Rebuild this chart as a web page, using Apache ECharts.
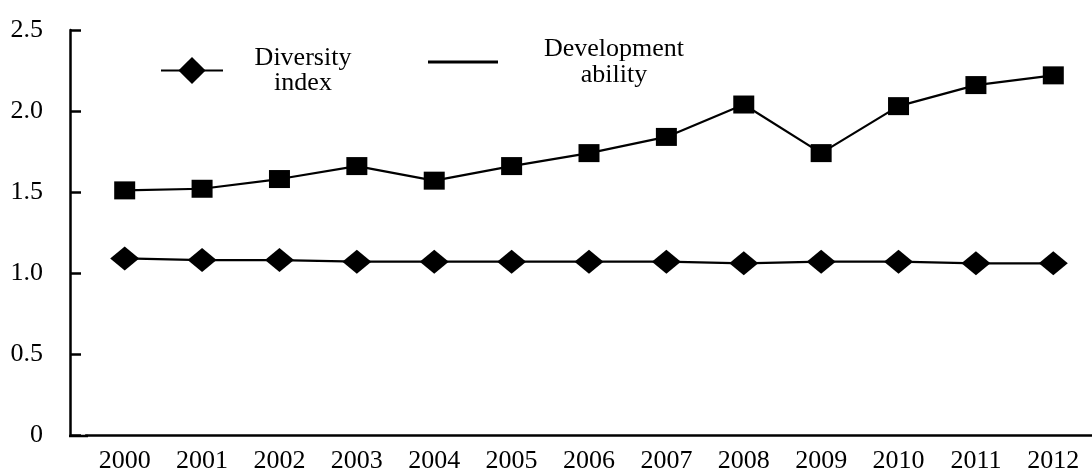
<!DOCTYPE html>
<html>
<head>
<meta charset="utf-8">
<script src="https://cdn.jsdelivr.net/npm/echarts@6/dist/echarts.min.js"></script>
<style>html,body{margin:0;padding:0;background:#fff}#c{width:1092px;height:474px}</style>
</head>
<body>
<div id="c"></div>
<script>
const years = ['2000','2001','2002','2003','2004','2005','2006','2007','2008','2009','2010','2011','2012'];
const diversityIndex = [1.09,1.08,1.08,1.07,1.07,1.07,1.07,1.07,1.06,1.07,1.07,1.06,1.06];
const developmentAbility = [1.51,1.52,1.58,1.66,1.57,1.66,1.74,1.84,2.04,1.74,2.03,2.16,2.22];
const yTicks = [0,0.5,1.0,1.5,2.0,2.5];

const FONT = 'Liberation Serif';
const chart = echarts.init(document.getElementById('c'), null, {renderer:'canvas'});
chart.setOption({
  backgroundColor:'#fff',
  animation:false,
  grid:{left:86, right:-21, top:30, bottom:38, containLabel:false},
  legend:[
    {data:['Diversity\nindex'], left:160, top:45, padding:0, itemWidth:62, itemHeight:34,
     formatter:function(n){return n.split('\n').map(function(s){return '{c|'+s+'}';}).join('\n');},
     textStyle:{padding:[0,0,0,31], rich:{c:{fontFamily:FONT, fontSize:26, lineHeight:25, color:'#000', width:88, align:'center'}}}},
    {data:[{name:'Development\nability', icon:'rect'}], left:428, top:36, padding:0, itemWidth:70, itemHeight:3,
     formatter:function(n){return n.split('\n').map(function(s){return '{c|'+s+'}';}).join('\n');},
     textStyle:{padding:[0,0,0,38], rich:{c:{fontFamily:FONT, fontSize:26, lineHeight:26, color:'#000', width:146, align:'center'}}}}
  ],
  xAxis:{
    type:'category', data:years, boundaryGap:true,
    axisLine:{lineStyle:{color:'#000', width:2.5}},
    axisTick:{inside:true, length:10, lineStyle:{color:'#000', width:2.5}, interval:function(i){return i>0;}},
    axisLabel:{fontFamily:FONT, fontSize:26, color:'#000', margin:13}
  },
  yAxis:{
    type:'value', min:yTicks[0], max:yTicks[yTicks.length-1], interval:0.5, offset:16,
    splitLine:{show:false},
    axisLine:{show:true, lineStyle:{color:'#000', width:2.5}},
    axisTick:{show:true, inside:true, length:11, lineStyle:{color:'#000', width:2.5}},
    axisLabel:{fontFamily:FONT, fontSize:26, color:'#000', margin:27,
      formatter:function(v){return v===0?'0':v.toFixed(1);}}
  },
  graphic:[{type:'line', shape:{x1:69, y1:436, x2:88, y2:436}, style:{stroke:'#000', lineWidth:2.5}}],
  series:[
    {name:'Diversity\nindex', type:'line', data:diversityIndex, symbol:'diamond', symbolSize:[29,24],
     itemStyle:{color:'#000'}, lineStyle:{color:'#000', width:2.2}},
    {name:'Development\nability', type:'line', data:developmentAbility, symbol:'rect', symbolSize:[21,18],
     itemStyle:{color:'#000'}, lineStyle:{color:'#000', width:2.2}}
  ]
});
</script>
</body>
</html>
